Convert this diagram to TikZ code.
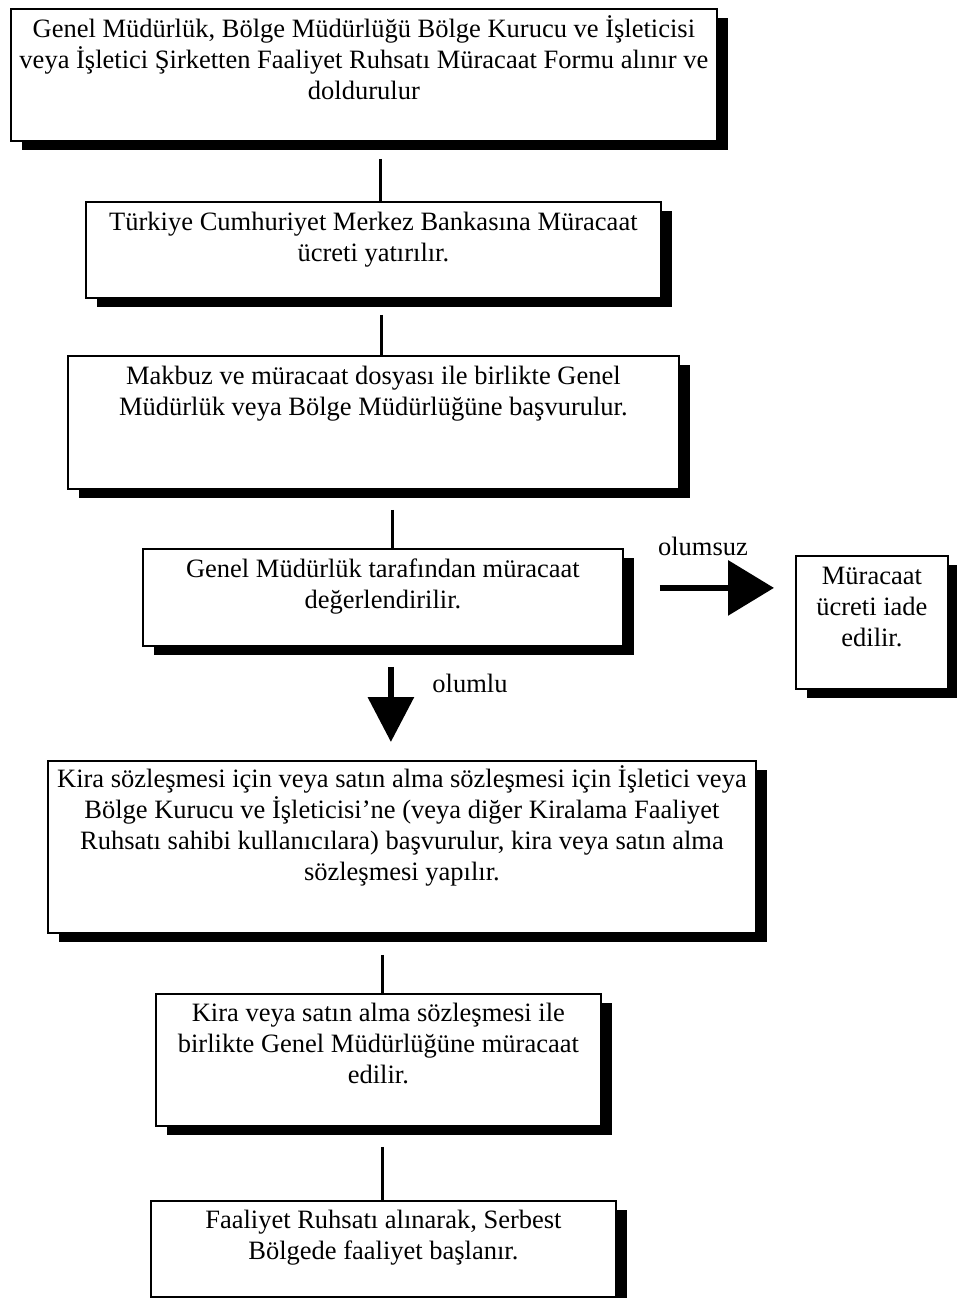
\documentclass[tikz,border=0pt]{standalone}
\usepackage{fontspec}
\setmainfont{Liberation Serif}
\usetikzlibrary{shadows,calc,arrows.meta}
\begin{document}
\begin{tikzpicture}[x=1pt,y=-1pt,
  box/.style={draw=black, line width=1.8pt, fill=white, anchor=north west, inner sep=0pt,
    drop shadow={shadow xshift=11pt, shadow yshift=-9pt, fill=black, opacity=1}},
  txt/.style={anchor=north, inner sep=0pt, align=center,
    font=\fontsize{26.5pt}{31pt}\selectfont},
  lbl/.style={anchor=base, inner sep=0pt, font=\fontsize{26.5pt}{31pt}\selectfont},
  conn/.style={line width=3pt},
  bigarrow/.style={line width=6.5pt}
]
\useasboundingbox (0,0) rectangle (957,1298);
\fill[white] (0,0) rectangle (957,1298);

\newcommand{\fs}{\rule{0pt}{24pt}}

% boxes
\node[box, minimum width=706pt, minimum height=132pt] (b1) at (10,8) {};
\node[box, minimum width=575pt, minimum height=96pt] (b2) at (85,201) {};
\node[box, minimum width=611pt, minimum height=133pt] (b3) at (67,355) {};
\node[box, minimum width=480pt, minimum height=97pt] (b4) at (142,548) {};
\node[box, minimum width=152pt, minimum height=133pt] (b5) at (795,555) {};
\node[box, minimum width=708pt, minimum height=172pt] (b6) at (47,760) {};
\node[box, minimum width=445pt, minimum height=132pt] (b7) at (155,993) {};
\node[box, minimum width=465pt, minimum height=96pt] (b8) at (150,1200) {};

% texts
\node[txt] (t1) at ($(b1.north)+(0,5)$) {\fs Genel Müdürlük, Bölge Müdürlüğü Bölge Kurucu ve İşleticisi\\veya İşletici Şirketten Faaliyet Ruhsatı Müracaat Formu alınır ve\\doldurulur};
\node[txt] (t2) at ($(b2.north)+(0,5)$) {\fs Türkiye Cumhuriyet Merkez Bankasına Müracaat\\ücreti yatırılır.};
\node[txt] (t3) at ($(b3.north)+(0,5)$) {\fs Makbuz ve müracaat dosyası ile birlikte Genel\\Müdürlük veya Bölge Müdürlüğüne başvurulur.};
\node[txt] (t4) at ($(b4.north)+(0,5)$) {\fs Genel Müdürlük tarafından müracaat\\değerlendirilir.};
\node[txt] (t5) at ($(b5.north)+(0,5)$) {\fs Müracaat\\ücreti iade\\edilir.};
\node[txt] (t6) at ($(b6.north)+(0,3)$) {\fs Kira sözleşmesi için veya satın alma sözleşmesi için İşletici veya\\Bölge Kurucu ve İşleticisi’ne (veya diğer Kiralama Faaliyet\\Ruhsatı sahibi kullanıcılara) başvurulur, kira veya satın alma\\sözleşmesi yapılır.};
\node[txt] (t7) at ($(b7.north)+(0,4)$) {\fs Kira veya satın alma sözleşmesi ile\\birlikte Genel Müdürlüğüne müracaat\\edilir.};
\node[txt] (t8) at ($(b8.north)+(0,4)$) {\fs Faaliyet Ruhsatı alınarak, Serbest\\Bölgede faaliyet başlanır.};

% connectors
\draw[conn] ($(b1.south)+(17,17)$) -- ($(b2.north)+(7.5,0)$);
\draw[conn] ($(b2.south)+(8.5,16)$) -- ($(b3.north)+(8.5,0)$);
\draw[conn] ($(b3.south)+(19.5,20)$) -- ($(b4.north)+(10,0)$);
\draw[conn] ($(b6.south)+(-19,21)$) -- ($(b7.north)+(4.5,0)$);
\draw[conn] ($(b7.south)+(4.5,20)$) -- ($(b8.north)+(-0.5,0)$);

% decision arrows
\draw[bigarrow, -{Triangle[length=46pt,width=54pt]}] ($(b4.east)+(36,-9.5)$) -- ($(b5.west)+(-21,-34.5)$);
\node[lbl] (l1) at (703,555) {olumsuz};
\draw[bigarrow, -{Triangle[length=45pt,width=45pt]}] ($(b4.south)+(8,20)$) -- ($(b6.north)+(-11,-18)$);
\node[lbl] (l2) at (470,692) {olumlu};
\end{tikzpicture}
\end{document}
